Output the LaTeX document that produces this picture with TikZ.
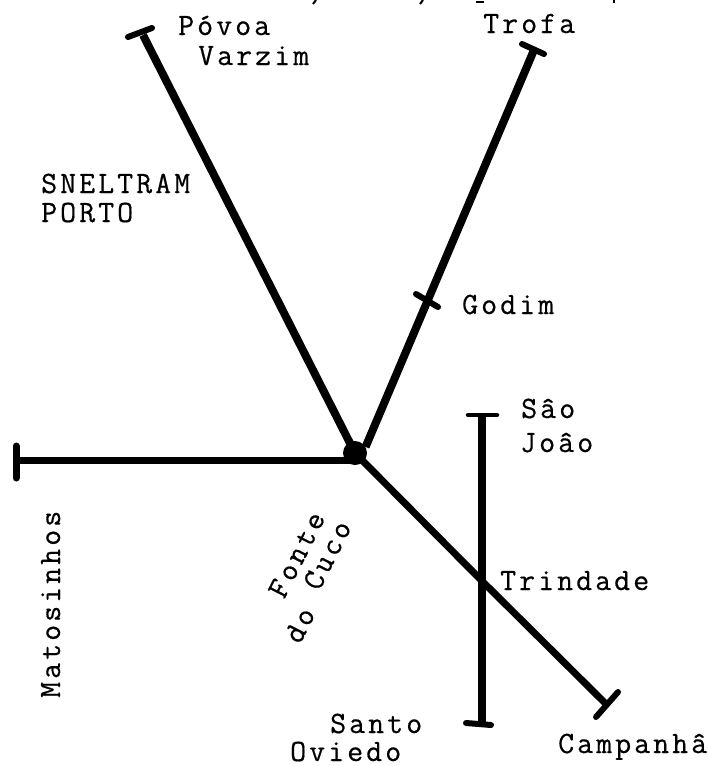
\documentclass[tikz,border=0pt]{standalone}
\usepackage{fontspec}
\setmonofont[LetterSpace=9.8,FakeBold=0.5]{Latin Modern Mono}
\tikzset{
  line/.style={line width=8pt,black},
  tbar/.style={line width=6pt,black,line cap=round},
  ink/.style={line width=2pt,black},
  lbl/.style={anchor=base west,inner sep=0pt,font=\ttfamily\fontsize{31}{33}\selectfont},
}
\begin{document}
\begin{tikzpicture}[x=1pt,y=-1pt]
\useasboundingbox (0,0) rectangle (708,766);
% stations
\node[circle,fill=black,minimum size=24pt,inner sep=0pt] (hub) at (355,453) {};
\coordinate (povoa) at (143,35);
\coordinate (povoaA) at (128,37);
\coordinate (povoaB) at (152,28);
\coordinate (trofa) at (534,50);
\coordinate (trofaA) at (522,44);
\coordinate (trofaB) at (544,54);
\coordinate (mato) at (16,460);
\coordinate (matoA) at (16,446);
\coordinate (matoB) at (16,478);
\coordinate (godimA) at (416,294);
\coordinate (godimB) at (438,307);
\coordinate (sj) at (482,415);
\coordinate (sjA) at (468,415);
\coordinate (sjB) at (497,415);
\coordinate (so) at (482,724);
\coordinate (soA) at (466,723);
\coordinate (soB) at (491,725);
\coordinate (trin) at (482,581);
\coordinate (camp) at (605,703);
\coordinate (campA) at (596,717);
\coordinate (campB) at (618,692);
% lines
\draw[line] (hub.center) -- (povoa);
\draw[line] (hub.30) -- (trofa);
\draw[line,line width=7pt] (hub.center |- mato) -- (mato);
\draw[line,line width=7pt] (hub.center) -- (trin) -- (camp);
\draw[line] (sj) -- (trin) -- (so);
% end bars
\draw[tbar] (povoaA) -- (povoaB);
\draw[tbar] (trofaA) -- (trofaB);
\draw[tbar,line width=7pt] (matoA) -- (matoB);
\draw[tbar] (godimA) -- (godimB);
\draw[tbar,line width=4.5pt] (sjA) -- (sjB);
\draw[tbar] (soA) -- (soB);
\draw[tbar] (campA) -- (campB);
% clipped line of print along the top edge
\coordinate (d1) at (316,0); \coordinate (d1e) at (313,4);
\coordinate (d2) at (423,0); \coordinate (d2e) at (420,4);
\coordinate (d3) at (476,2); \coordinate (d3e) at (484,2);
\coordinate (d4) at (614,0); \coordinate (d4e) at (614,3);
\draw[ink] (d1) -- (d1e);
\draw[ink] (d2) -- (d2e);
\draw[ink] (d3) -- (d3e);
\draw[ink] (d4) -- (d4e);
% labels
\node[lbl] (l1) at (178,35) {Póvoa};
\node[lbl] (l2) at (198,65) {Varzim};
\node[lbl] (l3) at (483,33) {Trofa};
\node[lbl] (l4) at (41,193) {SNELTRAM};
\node[lbl] (l5) at (41,222) {PORTO};
\node[lbl] (l6) at (462,314) {Godim};
\node[lbl] (l7) at (521,418) {Sâo};
\node[lbl] (l8) at (520,452) {Joâo};
\node[lbl] (l9) at (500,590) {Trindade};
\node[lbl] (l10) at (330,733) {Santo};
\node[lbl] (l11) at (290,761) {Oviedo};
\node[lbl] (l12) at (558,753) {Campanhâ};
\node[lbl,rotate=90] (l13) at (60,698) {Matosinhos};
\node[lbl,rotate=63] (l14) at (284,600) {Fonte};
\node[lbl,rotate=63] (l15) at (300,645) {do};
\node[lbl,rotate=63] (l16) at (319,592) {Cuco};
\end{tikzpicture}
\end{document}
